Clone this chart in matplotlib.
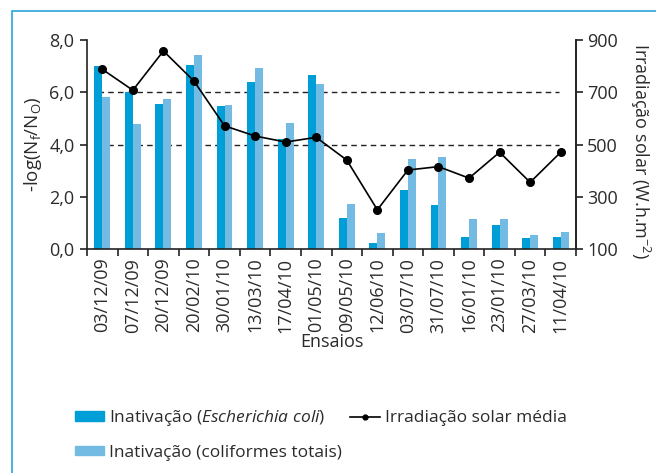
import matplotlib
matplotlib.use("Agg")
import matplotlib.pyplot as plt
import numpy as np
from matplotlib.patches import Rectangle, Patch
from matplotlib.lines import Line2D

# ---------------------------------------------------------------------------
# data
# ---------------------------------------------------------------------------
ensaios = ["03/12/09", "07/12/09", "20/12/09", "20/02/10", "30/01/10", "13/03/10",
           "17/04/10", "01/05/10", "09/05/10", "12/06/10", "03/07/10", "31/07/10",
           "16/01/10", "23/01/10", "27/03/10", "11/04/10"]
ecoli = [7.0, 6.02, 5.55, 7.04, 5.48, 6.39, 4.22, 6.66,
         1.2, 0.24, 2.27, 1.69, 0.47, 0.93, 0.43, 0.47]
coliformes = [5.82, 4.79, 5.74, 7.44, 5.51, 6.93, 4.83, 6.32,
              1.73, 0.62, 3.45, 3.53, 1.16, 1.16, 0.55, 0.66]
irradiacao = [788, 708, 858, 743, 572, 533, 510, 528,
              441, 251, 403, 416, 372, 471, 356, 471]

left_ticks = [0, 2, 4, 6, 8]
left_labels = ["0,0", "2,0", "4,0", "6,0", "8,0"]
right_ticks = [100, 300, 500, 700, 900]
ref_lines = [4.0, 6.0]

DARK = "#009ed6"
LIGHT = "#74bbe3"
TXT = "#2b2b2b"

plt.rcParams.update({
    "font.family": ["Open Sans", "DejaVu Sans"],
    "mathtext.fontset": "custom",
    "mathtext.rm": "Open Sans",
    "mathtext.it": "Open Sans:italic",
    "text.color": TXT,
    "axes.labelcolor": TXT,
    "xtick.color": TXT,
    "ytick.color": TXT,
    "font.size": 12.5,
})

fig = plt.figure(figsize=(6.56, 4.73), dpi=100)
fig.patches.append(Rectangle((12 / 656, -0.1), 1.2, 1.1 - 11 / 473, transform=fig.transFigure,
                             fill=False, edgecolor="#2aa6dc", linewidth=1.2, zorder=0))

ax = fig.add_axes([87 / 656, 1 - 249.3 / 473, (576 - 87) / 656, (249.3 - 40) / 473])
x = np.arange(len(ensaios))
w = 0.26
ax.bar(x - w / 2, ecoli, w, color=DARK, zorder=2)
ax.bar(x + w / 2, coliformes, w, color=LIGHT, zorder=2)
for r in ref_lines:
    ax.plot([-0.15, len(ensaios) - 1.05], [r, r], ls=(0, (4, 3)), color="#222222", lw=1.0, zorder=1)

ax.set_xlim(-0.5, len(ensaios) - 0.5)
ax.set_ylim(0, 8)
ax.set_yticks(left_ticks)
ax.set_yticklabels(left_labels)
ax.set_xticks(x)
ax.set_xticklabels(ensaios, rotation=90)
ax.set_xticks(np.arange(len(ensaios) + 1) - 0.5, minor=True)
ax.tick_params(axis="x", which="major", length=0, pad=6, labelsize=13)
ax.tick_params(axis="x", which="minor", length=5, width=1.2, color="#222222")
ax.tick_params(axis="y", length=5, width=1.2, color="#222222", pad=4, labelsize=13)
ax.spines["top"].set_visible(False)
for s in ["left", "bottom", "right"]:
    ax.spines[s].set_linewidth(1.2)
    ax.spines[s].set_color("#222222")
ax.set_ylabel(r"-log(N$_{\mathrm{f}}$/N$_{\mathrm{O}}$)", labelpad=4, fontsize=13.5)
ax.set_xlabel("Ensaios", labelpad=0, fontsize=13)

ax2 = ax.twinx()
ax2.plot(x, irradiacao, color="black", lw=1.2, marker="o", ms=5.5, zorder=3)
ax2.set_ylim(100, 900)
ax2.set_yticks(right_ticks)
ax2.tick_params(axis="y", length=5, width=1.2, color="#222222", pad=3, labelsize=13)
for s in ["top", "left", "bottom"]:
    ax2.spines[s].set_visible(False)
ax2.spines["right"].set_linewidth(1.2)
ax2.spines["right"].set_color("#222222")
ax2.set_ylabel("Irradiação solar (W.h.m$^{-2}$)", rotation=270, fontsize=13)
ax2.yaxis.set_label_coords(1.155, 0.47)

handles = [Patch(color=DARK), Patch(color=LIGHT),
           Line2D([], [], color="black", lw=1.2, marker="o", ms=3.5)]
labels = [r"Inativação ($\mathit{Escherichia\ coli}$)", "Inativação (coliformes totais)",
          "Irradiação solar média"]
fig.legend(handles, labels, ncol=2, loc="upper left", bbox_to_anchor=(0.09, 0.17),
           frameon=False, handlelength=1.7, handleheight=0.5, handletextpad=0.3,
           columnspacing=0.45, labelspacing=0.95, fontsize=12.5)

fig.savefig("out.png", dpi=100)
